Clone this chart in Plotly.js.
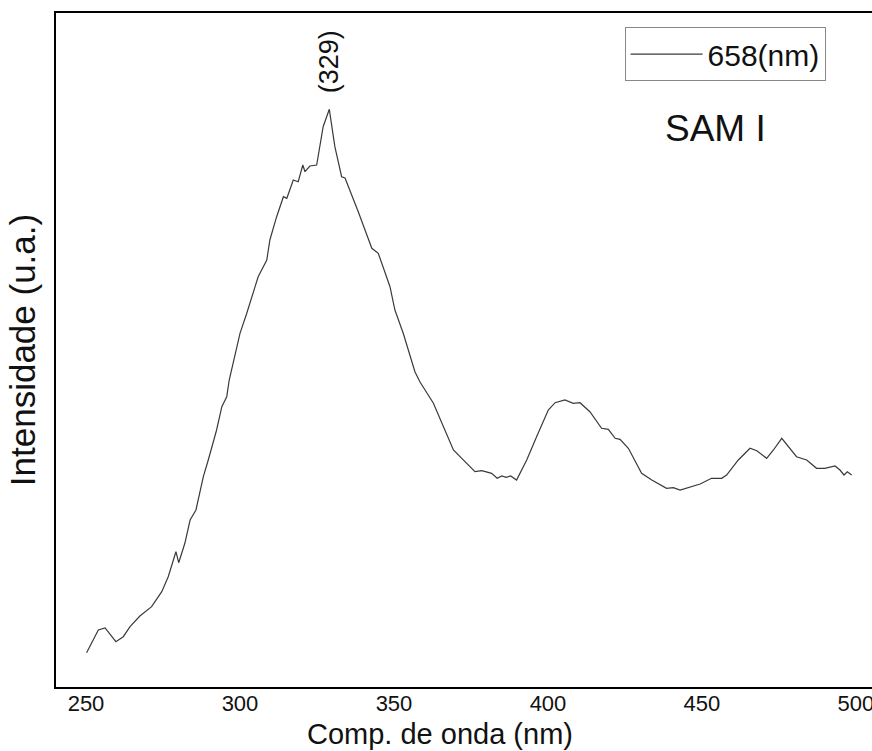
<!DOCTYPE html>
<html>
<head>
<meta charset="utf-8">
<script src="https://cdn.plot.ly/plotly-3.0.1.min.js"></script>
<style>
html,body{margin:0;padding:0;overflow:hidden;background:#fff;}
#chart{width:880px;height:751px;}
</style>
</head>
<body>
<div id="chart"></div>
<script>
// Wavelength (nm)
const wavelength = [250.2,254.0,256.2,259.7,262.1,264.3,267.5,271.3,274.6,276.7,279.2,280.1,282.1,283.8,285.7,288.1,289.7,292.4,294.1,295.7,296.5,300.0,302.2,305.9,308.7,309.7,311.9,314.1,315.2,317.3,318.9,320.4,321.1,322.7,324.9,327.0,329.0,330.8,333.0,334.1,338.4,342.8,344.9,348.7,350.3,353.0,356.8,358.4,362.8,366.0,369.3,372.0,373.6,376.3,378.5,381.7,383.5,385.0,386.4,387.9,389.8,393.1,396.3,400.1,402.3,405.5,408.2,410.4,413.6,417.4,419.6,421.8,423.4,426.1,430.4,433.7,438.5,440.7,442.9,446.1,449.4,453.1,456.4,458.0,461.8,465.6,467.8,471.0,473.2,475.9,478.6,480.7,484.0,487.2,489.9,491.6,493.2,494.8,496.1,497.2,498.6];
// Intensity (a.u.)
const intensity = [34.3,57,59,45.3,50.3,60.3,71,80.3,95.3,110.3,135.3,124.3,143.7,167,177,210.3,227,257,280.3,290.3,307,353.7,373.7,410.3,427,447,470.3,490.3,488.7,507,505.3,522,515.3,521,522,560.3,577.7,540.3,510.3,509,475.3,438.7,433.7,400.3,377,353.7,315.3,305.3,283.7,260.3,237,228.7,223.7,215.3,216.3,213.7,208.7,211,209.7,211,207,227,250.3,277,284.3,287,283.7,284.3,275.3,258.7,257.7,248.7,247.7,238.7,213.7,207,198.7,199.3,197,200.3,203,208.7,208.7,212,227,238.7,236.3,228.7,237,248.7,238.7,230.3,227,218.7,218.7,219.7,221,217,212,215.3,212];
const xTicks = [250,300,350,400,450,500];
const seriesName = "658(nm)";
const peakLabel = "(329)";
const peakX = 329;
const sampleLabel = "SAM I";
const xTitle = "Comp. de onda (nm)";
const yTitle = "Intensidade (u.a.)";

const font = "Liberation Sans, Arial, sans-serif";

const trace = {
  x: wavelength, y: intensity, type: 'scatter', mode: 'lines',
  name: seriesName,
  line: {color: '#3a3a3a', width: 1.2}
};

const layout = {
  width: 880, height: 751,
  margin: {l: 56, r: 0, t: 13, b: 64},
  paper_bgcolor: '#fff', plot_bgcolor: '#fff',
  font: {family: font, color: '#111'},
  showlegend: true,
  legend: {
    x: 0.69, y: 0.979, xanchor: 'left', yanchor: 'top',
    bordercolor: '#888', borderwidth: 1, bgcolor: '#fff',
    font: {size: 30, family: font, color: '#111'},
    itemwidth: 72, tracegroupgap: 0
  },
  xaxis: {
    range: [240.26, 507.8],
    tickvals: xTicks, ticktext: xTicks.map(String),
    ticks: '', showgrid: false, zeroline: false,
    showline: true, linecolor: '#000', linewidth: 2, mirror: true,
    ticklabelstandoff: -4,
    tickfont: {size: 22, family: font, color: '#111'}
  },
  yaxis: {
    range: [0, 674],
    showticklabels: false, ticks: '', showgrid: false, zeroline: false,
    showline: true, linecolor: '#000', linewidth: 2, mirror: true,
    title: {text: yTitle, font: {size: 35, family: font, color: '#111'}, standoff: 8}
  },
  annotations: [
    {x: peakX, y: 625, xref: 'x', yref: 'y', text: peakLabel, textangle: -90,
     showarrow: false, font: {size: 27, family: font, color: '#111'}},
    {x: 0.80, y: 559, xref: 'paper', yref: 'y', xanchor: 'center', yanchor: 'middle', text: sampleLabel,
     showarrow: false, font: {size: 37, family: font, color: '#111'}},
    {x: 0, y: -0.069, xref: 'x', yref: 'paper', xanchor: 'center', yanchor: 'middle', text: xTitle,
     showarrow: false, font: {size: 29, family: font, color: '#111'}}
  ]
};
// x title centre at pixel ~440 -> data coordinate
layout.annotations[2].x = 240.26 + (440 - 56) / 3.08;

Plotly.newPlot('chart', [trace], layout, {displayModeBar: false, staticPlot: true});
</script>
</body>
</html>
